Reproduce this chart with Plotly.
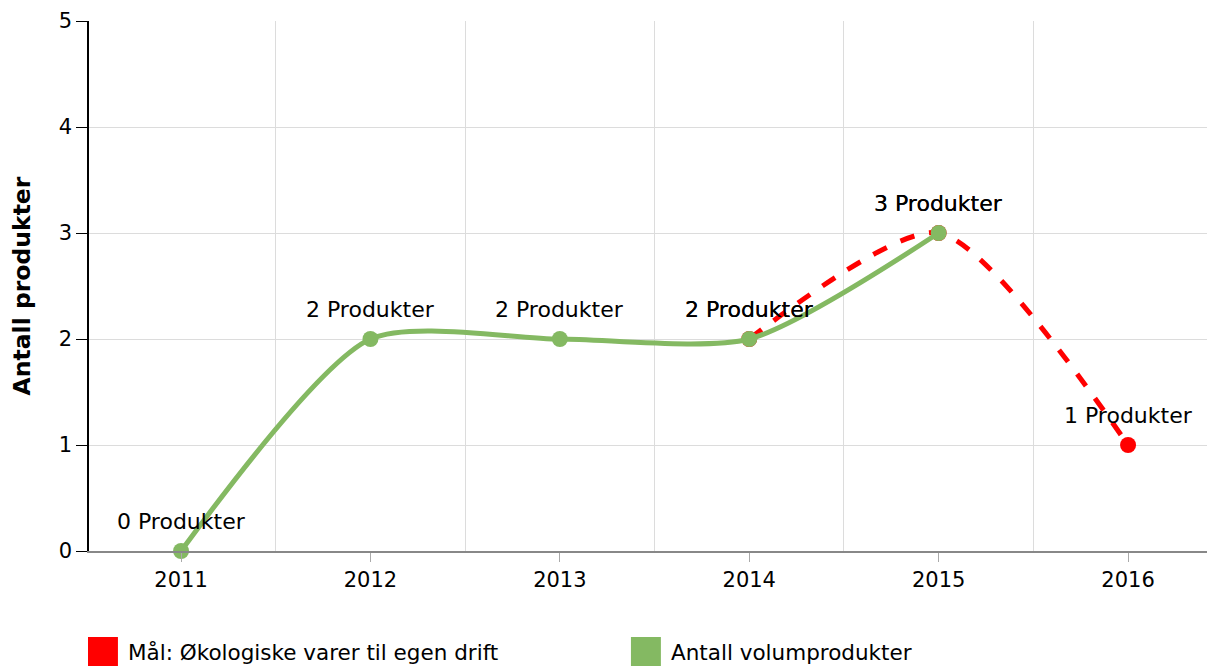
import plotly.graph_objects as go

years = ["2011", "2012", "2013", "2014", "2015", "2016"]
green_idx = [0, 1, 2, 3, 4]
green_vals = [0, 2, 2, 2, 3]
red_idx = [3, 4, 5]
red_vals = [2, 3, 1]
green_name = "Antall volumprodukter"
red_name = "Mål: Økologiske varer til egen drift"
GREEN = "#84b962"
RED = "#ff0000"
FONT = "DejaVu Sans"

fig = go.Figure()
for xs, ys, col, dash in [(red_idx, red_vals, RED, "dash"), (green_idx, green_vals, GREEN, "solid")]:
    fig.add_trace(go.Scatter(
        x=xs, y=ys, mode="lines+markers",
        line=dict(color=col, width=5, dash=dash, shape="spline", smoothing=0.7),
        marker=dict(color=col, size=16),
        showlegend=False, cliponaxis=False))
    for xv, yv in zip(xs, ys):
        fig.add_annotation(x=xv, y=yv, text=f"{yv} Produkter", showarrow=False,
                           xanchor="center", yanchor="middle", yshift=30,
                           font=dict(size=22, color="#000", family=FONT))

# legend drawn as swatches + labels below the plot
legend_items = [(red_name, RED, -0.0009, 0.0329), (green_name, GREEN, 0.4813, 0.5151)]
for nm, col, xp, xt in legend_items:
    fig.add_shape(type="rect", xref="paper", yref="paper",
                  x0=xp, x1=xp + 0.0266, y0=-0.1623, y1=-0.2189,
                  fillcolor=col, line=dict(width=0))
    fig.add_annotation(text=nm, xref="paper", yref="paper", x=xt, y=-0.1906,
                       xanchor="left", yanchor="middle", showarrow=False,
                       font=dict(size=21.5, family=FONT, color="#000"))

fig.update_layout(
    width=1207, height=658,
    margin=dict(l=81, r=0, t=13, b=115),
    plot_bgcolor="white", paper_bgcolor="white",
    font=dict(family=FONT, size=16, color="#000"),
    showlegend=False,
    xaxis=dict(range=[-0.486, 5.459], tickvals=list(range(len(years))), ticktext=years,
               showgrid=False, zeroline=False, showline=True, linecolor="#888", linewidth=2,
               ticks="outside", ticklen=9, tickcolor="#aaa", tickwidth=1,
               tickfont=dict(size=21), automargin=False,
               minor=dict(tickvals=[0.5, 1.5, 2.5, 3.5, 4.5], showgrid=True,
                          gridcolor="#dcdcdc", gridwidth=1, ticklen=0)),
    yaxis=dict(range=[0, 5], tickvals=[0, 1, 2, 3, 4, 5], showgrid=True, gridcolor="#dcdcdc",
               zeroline=False, showline=True, linecolor="#000", linewidth=1.5,
               ticks="outside", ticklen=11, tickcolor="#000",
               tickfont=dict(size=21), automargin=False,
               title=dict(text="<b>Antall produkter</b>", font=dict(size=23.5), standoff=30)),
)

fig.write_html("out.html")
